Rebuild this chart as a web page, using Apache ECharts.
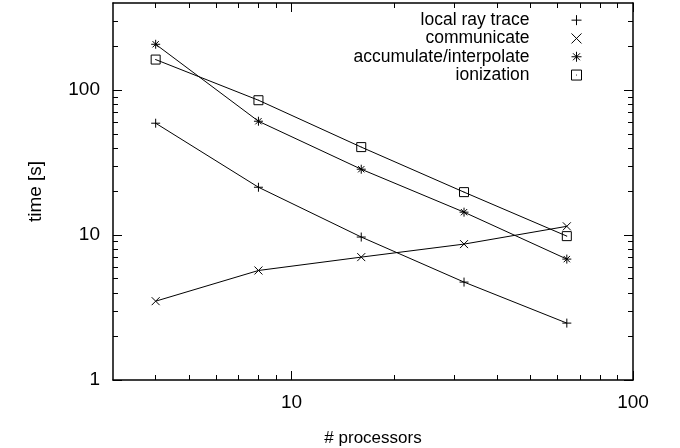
<!DOCTYPE html>
<html><head><meta charset="utf-8">
<script src="https://cdn.jsdelivr.net/npm/echarts@6.0.0/dist/echarts.min.js"></script>
<style>html,body{margin:0;padding:0;background:#fff}#c{width:680px;height:448px}</style>
</head><body><div id="c"></div>
<script>
const processors = [4, 8, 16, 32, 64];
const localRayTrace = [59.2, 21.4, 9.7, 4.74, 2.47];
const communicate = [3.5, 5.7, 7.05, 8.67, 11.5];
const accumulateInterpolate = [207.6, 61.1, 28.5, 14.4, 6.83];
const ionization = [162.8, 85.3, 40.5, 19.8, 9.84];
const seriesNames = ['local ray trace', 'communicate', 'accumulate/interpolate', 'ionization'];
const xRange = [3, 100];
const yRange = [1, 400];
const xMajorTicks = [10, 100];
const xMinorTicks = [4, 5, 6, 7, 8, 9, 20, 30, 40, 50, 60, 70, 80, 90];
const yMajorTicks = [1, 10, 100];
const yMinorTicks = [2, 3, 4, 5, 6, 7, 8, 9, 20, 30, 40, 50, 60, 70, 80, 90, 200, 300];
const xTitle = '# processors';
const yTitle = 'time [s]';

const FONT = 'Liberation Sans';
const FS = 19;
const symbols = [
  'path://M0,5L10,5M5,0L5,10',
  'path://M0,0L10,10M0,10L10,0',
  'path://M0,5L10,5M5,0L5,10M1.5,1.5L8.5,8.5M1.5,8.5L8.5,1.5',
  'path://M0,0L10,0L10,10L0,10ZM4.6,5L5.4,5'
];
const symbolSizes = [9, 8, 9, 9];
const valuesList = [localRayTrace, communicate, accumulateInterpolate, ionization];

function makeAxis(range, pos, ticks, len, withLine, labels, name, nameSize) {
  const a = {
    type: 'log', logBase: 10, min: range[0], max: range[1], position: pos,
    gridIndex: 0,
    axisLine: { show: withLine, onZero: false, lineStyle: { color: '#000', width: 1.5 } },
    axisTick: { show: true, inside: true, length: len, customValues: ticks, lineStyle: { color: '#000', width: 1 } },
    axisLabel: { show: !!labels, customValues: labels || [], color: '#000', fontSize: FS, fontFamily: FONT, margin: 13 },
    splitLine: { show: false },
    minorTick: { show: false }
  };
  if (name) {
    a.name = name;
    a.nameLocation = 'middle';
    a.nameTextStyle = { color: '#000', fontSize: nameSize, fontFamily: FONT };
  }
  return a;
}

const xAxes = [
  Object.assign(makeAxis(xRange, 'bottom', xMajorTicks, 9, true, xMajorTicks, xTitle, 17), { nameGap: 50 }),
  makeAxis(xRange, 'bottom', xMinorTicks, 5, false, null),
  makeAxis(xRange, 'top', xMajorTicks, 9, true, null),
  makeAxis(xRange, 'top', xMinorTicks, 5, false, null)
];
const yAxes = [
  Object.assign(makeAxis(yRange, 'left', yMajorTicks, 9, true, yMajorTicks, yTitle, 19), { nameGap: 68 }),
  makeAxis(yRange, 'left', yMinorTicks, 5, false, null),
  makeAxis(yRange, 'right', yMajorTicks, 9, true, null),
  makeAxis(yRange, 'right', yMinorTicks, 5, false, null)
];

const series = seriesNames.map((n, k) => ({
  name: n, type: 'line', xAxisIndex: 0, yAxisIndex: 0,
  data: processors.map((p, i) => [p, valuesList[k][i]]),
  symbol: symbols[k], symbolSize: symbolSizes[k], showSymbol: true,
  lineStyle: { color: '#000', width: 1 },
  itemStyle: { color: 'rgba(0,0,0,0)', borderColor: '#000', borderWidth: 1 },
  emphasis: { disabled: true },
  animation: false
}));

const chart = echarts.init(document.getElementById('c'), null, { renderer: 'canvas' });
chart.setOption({
  backgroundColor: '#fff',
  animation: false,
  grid: { left: 113, right: 47, top: 3, bottom: 68, containLabel: false, outerBoundsMode: 'none' },
  xAxis: xAxes,
  yAxis: yAxes,
  legend: {
    orient: 'vertical', right: 93, top: 6, align: 'right',
    itemWidth: 10, itemHeight: 10, itemGap: 0, selectedMode: false,
    data: seriesNames.map((n, k) => ({ name: n, icon: symbols[k],
      itemStyle: { color: 'rgba(0,0,0,0)', borderColor: '#000', borderWidth: 1 } })),
    textStyle: { color: '#000', fontSize: 17.5, fontFamily: FONT, lineHeight: 18.3, padding: [0, 37, 0, 0] }
  },
  series: series
});
</script>
</body></html>
